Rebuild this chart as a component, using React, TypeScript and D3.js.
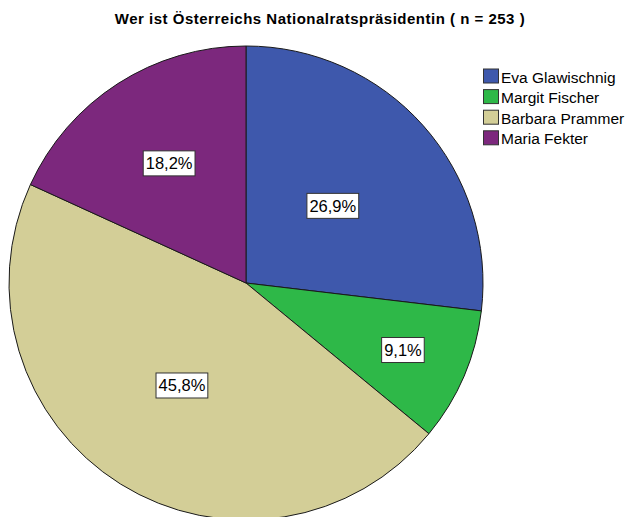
import React, { useEffect, useRef } from "react";
import * as d3 from "d3";

const categories = ["Eva Glawischnig", "Margit Fischer", "Barbara Prammer", "Maria Fekter"];
const counts = [68, 23, 116, 46];
const colors = ["#3E58AC", "#2EB848", "#D3CE97", "#7C287D"];
const title = "Wer ist Österreichs Nationalratspräsidentin ( n = 253 )";

// label distance from centre, as fraction of radius (layout)
const labelRadiusFrac = [0.49, 0.72, 0.51, 0.6];

const W = 634;
const H = 517;
const CX = 246;
const CY = 283;
const R = 237;
const FONT = "Arial, 'Liberation Sans', sans-serif";

export default function App() {
  const ref = useRef<SVGSVGElement>(null);

  useEffect(() => {
    const svg = d3.select(ref.current);
    svg.selectAll("*").remove();

    svg.append("rect").attr("width", W).attr("height", H).attr("fill", "#ffffff");

    svg
      .append("text")
      .attr("x", 320)
      .attr("y", 24)
      .attr("text-anchor", "middle")
      .attr("font-family", FONT)
      .attr("font-weight", "bold")
      .attr("font-size", 15)
      .attr("letter-spacing", 0.5)
      .attr("fill", "#000")
      .text(title);

    const total = d3.sum(counts);
    const pie = d3.pie<number>().sort(null).value((d) => d);
    const arcs = pie(counts);
    const arc = d3.arc<d3.PieArcDatum<number>>().innerRadius(0).outerRadius(R);

    const g = svg.append("g").attr("transform", `translate(${CX},${CY})`);
    g.selectAll("path.slice")
      .data(arcs)
      .join("path")
      .attr("class", "slice")
      .attr("d", arc)
      .attr("fill", (_, i) => colors[i])
      .attr("stroke", "#1a1a1a")
      .attr("stroke-width", 1)
      .attr("stroke-linejoin", "round");

    const fmt = (v: number) => ((v / total) * 100).toFixed(1).replace(".", ",") + "%";

    arcs.forEach((a, i) => {
      const lr = R * labelRadiusFrac[i];
      const la = d3.arc<d3.PieArcDatum<number>>().innerRadius(lr).outerRadius(lr);
      const [x, y] = la.centroid(a);
      const lg = g.append("g").attr("transform", `translate(${x},${y})`);
      const rect = lg.append("rect");
      const t = lg
        .append("text")
        .attr("text-anchor", "middle")
        .attr("dy", "0.36em")
        .attr("font-family", FONT)
        .attr("font-size", 16.5)
        .attr("fill", "#000")
        .text(fmt(a.data));
      const w = (t.node() as SVGTextElement).getComputedTextLength();
      const bw = w + 5;
      const bh = 25;
      rect
        .attr("x", -bw / 2)
        .attr("y", -bh / 2)
        .attr("width", bw)
        .attr("height", bh)
        .attr("fill", "#fff")
        .attr("stroke", "#333")
        .attr("stroke-width", 1);
    });

    const leg = svg.append("g").attr("transform", "translate(483,68.5)");
    categories.forEach((c, i) => {
      const row = leg.append("g").attr("transform", `translate(0,${i * 20.6})`);
      row
        .append("rect")
        .attr("x", 0.5)
        .attr("y", 0.5)
        .attr("width", 15)
        .attr("height", 14)
        .attr("fill", colors[i])
        .attr("stroke", "#333")
        .attr("stroke-width", 1);
      row
        .append("text")
        .attr("x", 18)
        .attr("y", 14)
        .attr("font-family", FONT)
        .attr("font-size", 15.5)
        .attr("fill", "#000")
        .text(c);
    });
  }, []);

  return (
    <svg
      ref={ref}
      width={W}
      height={H}
      style={{ position: "absolute", left: 0, top: 0, display: "block" }}
    />
  );
}
